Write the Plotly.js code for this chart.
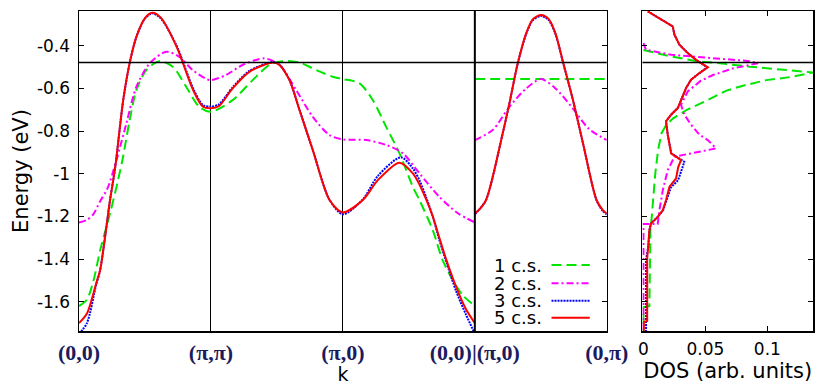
<!DOCTYPE html>
<html>
<head>
<meta charset="utf-8">
<script src="https://cdn.plot.ly/plotly-3.0.1.min.js"></script>
<style>
html,body{margin:0;padding:0;background:#fff;}
#chart{width:822px;height:385px;}
</style>
</head>
<body>
<div id="chart"></div>
<script>
// ---------- data ----------
const seriesNames = ['1 c.s.', '2 c.s.', '3 c.s.', '5 c.s.'];
const kTickVals = [0, 1, 2, 3, 4];
const kTickText = ['(0,0)', '(π,π)', '(π,0)', '(0,0)|(π,0)', '(0,π)'];
const energyTickVals = [-1.6, -1.4, -1.2, -1.0, -0.8, -0.6, -0.4];
const energyTickText = ['-1.6', '-1.4', '-1.2', '-1', '-0.8', '-0.6', '-0.4'];
const dosTickVals = [0, 0.05, 0.1];
const dosTickText = ['0', '0.05', '0.1'];
const fermiLevel = -0.478;
const pathBreak = 3;

// band for 1 c.s. (green)
const k1 = [0, 0.06, 0.11, 0.16, 0.235, 0.296, 0.334, 0.384, 0.435, 0.51, 0.61, 0.711, 0.812, 0.912, 1.0,
            1.164, 1.316, 1.443, 1.544, 1.671, 1.798, 1.924, 2.0,
            2.126, 2.227, 2.328, 2.429, 2.53, 2.58, 2.681, 2.756, 2.832, 2.908, 3.0,
            null, 3.0, 3.5, 4.0];
const e1 = [-1.62, -1.59, -1.50, -1.36, -1.186, -1.03, -0.92, -0.748, -0.608, -0.514, -0.472, -0.498, -0.592, -0.686, -0.709,
            -0.655, -0.561, -0.49, -0.472, -0.478, -0.514, -0.545, -0.556,
            -0.576, -0.655, -0.78, -0.904, -1.061, -1.123, -1.264, -1.405, -1.498, -1.569, -1.62,
            null, -0.556, -0.556, -0.556];

// band for 2 c.s. (magenta)
const k2 = [0, 0.058, 0.108, 0.158, 0.215, 0.284, 0.359, 0.435, 0.535, 0.661, 0.761, 0.861, 0.957, 1.0,
            1.114, 1.24, 1.405, 1.519, 1.646, 1.772, 1.899, 2.0,
            2.177, 2.328, 2.454, 2.58, 2.731, 2.874, 3.0,
            null, 3.0, 3.135, 3.262, 3.389, 3.503, 3.611, 3.738, 3.865, 4.0];
const e2 = [-1.228, -1.217, -1.19, -1.131, -1.07, -0.936, -0.764, -0.592, -0.483, -0.428, -0.452, -0.514, -0.553, -0.561,
            -0.537, -0.49, -0.459, -0.49, -0.608, -0.733, -0.819, -0.839,
            -0.842, -0.865, -0.904, -0.998, -1.108, -1.186, -1.228,
            null, -0.842, -0.795, -0.686, -0.6, -0.556, -0.6, -0.69, -0.79, -0.842];

// band for 3 c.s. (blue)
const k3 = [0, 0.06, 0.13, 0.16, 0.235, 0.275, 0.335, 0.385, 0.435, 0.50, 0.555, 0.62, 0.74, 0.865, 0.94, 1.0,
            1.06, 1.164, 1.291, 1.473, 1.519, 1.595, 1.671, 1.772, 1.899, 2.0,
            2.151, 2.265, 2.44, 2.53, 2.58, 2.631, 2.681, 2.731, 2.782, 2.858, 2.933, 3.0,
            null, 3.0, 3.03, 3.085, 3.211, 3.262, 3.325, 3.389, 3.44, 3.503, 3.56, 3.611, 3.668, 3.744, 3.82, 3.922, 3.97, 4.0];
const e3 = [-1.75, -1.70, -1.52, -1.452, -1.124, -0.967, -0.655, -0.478, -0.358, -0.272, -0.248, -0.272, -0.40, -0.60, -0.678, -0.685,
            -0.675, -0.595, -0.518, -0.476, -0.488, -0.56, -0.70, -0.889, -1.123, -1.19,
            -1.12, -1.01, -0.923, -0.975, -1.03, -1.11, -1.2, -1.31, -1.41, -1.55, -1.66, -1.75,
            null, -1.19, -1.17, -1.123, -0.811, -0.67, -0.483, -0.345, -0.28, -0.26, -0.28, -0.345, -0.478, -0.655, -0.858, -1.123, -1.175, -1.19];

// band for 5 c.s. (red)
const k5 = [0, 0.06, 0.13, 0.16, 0.235, 0.275, 0.335, 0.385, 0.435, 0.50, 0.555, 0.62, 0.74, 0.865, 0.94, 1.0,
            1.06, 1.164, 1.291, 1.473, 1.519, 1.595, 1.671, 1.772, 1.899, 2.0,
            2.151, 2.265, 2.429, 2.53, 2.58, 2.631, 2.681, 2.731, 2.782, 2.858, 2.933, 3.0,
            null, 3.0, 3.03, 3.085, 3.211, 3.262, 3.325, 3.389, 3.44, 3.503, 3.56, 3.611, 3.668, 3.744, 3.82, 3.922, 3.97, 4.0];
const e5 = [-1.70, -1.655, -1.514, -1.452, -1.124, -0.967, -0.655, -0.478, -0.358, -0.27, -0.245, -0.268, -0.405, -0.608, -0.686, -0.693,
            -0.683, -0.60, -0.522, -0.478, -0.49, -0.561, -0.701, -0.889, -1.123, -1.181,
            -1.123, -1.03, -0.948, -0.998, -1.05, -1.12, -1.2, -1.3, -1.40, -1.53, -1.635, -1.70,
            null, -1.186, -1.17, -1.123, -0.811, -0.67, -0.483, -0.342, -0.275, -0.256, -0.275, -0.342, -0.475, -0.655, -0.858, -1.123, -1.17, -1.186];

// density of states
const dos1 = [0, 0.0223, 0.0438, 0.0615, 0.0857, 0.11, 0.134, 0.1368, 0.1206, 0.0992, 0.0803, 0.067, 0.05, 0.035, 0.024, 0.0185, 0.0145, 0.0118, 0.0095, 0.0083, 0.0067, 0.0056, 0.0052, 0.0052, 0.0048, 0, 0];
const dosE1 = [-0.42, -0.45, -0.473, -0.482, -0.498, -0.511, -0.522, -0.525, -0.545, -0.561, -0.587, -0.61, -0.66, -0.70, -0.74, -0.77, -0.811, -0.889, -1.0, -1.108, -1.202, -1.264, -1.389, -1.58, -1.62, -1.625, -1.74];

const dos2 = [0, 0.002, 0.0223, 0.0492, 0.0723, 0.0857, 0.0924, 0.0723, 0.0561, 0.046, 0.0357, 0.0303, 0.033, 0.0384, 0.0452, 0.0519, 0.0586, 0.0357, 0.025, 0.0196, 0.0156, 0.0129, 0.0115, 0.0115, 0, 0];
const dosE2 = [-0.387, -0.419, -0.442, -0.455, -0.464, -0.472, -0.482, -0.506, -0.537, -0.565, -0.614, -0.677, -0.723, -0.77, -0.817, -0.842, -0.881, -0.908, -0.92, -0.983, -1.077, -1.17, -1.217, -1.236, -1.236, -1.74];

const dos3 = [0.0035, 0.0196, 0.0236, 0.025, 0.029, 0.0357, 0.0424, 0.0465, 0.0515, 0.0452, 0.0384, 0.0344, 0.0303, 0.0277, 0.0223, 0.0182, 0.0196, 0.021, 0.0225, 0.033, 0.031, 0.028, 0.022, 0.0185, 0.016, 0.0115, 0.0061, 0.0048, 0.004, 0.0021, 0.0021];
const dosE3 = [-0.239, -0.294, -0.309, -0.348, -0.395, -0.434, -0.466, -0.481, -0.501, -0.528, -0.559, -0.598, -0.661, -0.692, -0.723, -0.754, -0.817, -0.858, -0.904, -0.944, -0.98, -1.03, -1.065, -1.123, -1.17, -1.202, -1.233, -1.264, -1.342, -1.40, -1.74];

const dos5 = [0.0035, 0.0196, 0.0236, 0.025, 0.029, 0.0357, 0.0424, 0.0465, 0.0519, 0.0452, 0.0384, 0.0344, 0.0303, 0.0277, 0.0223, 0.0182, 0.0196, 0.021, 0.0223, 0.0303, 0.028, 0.0263, 0.021, 0.0182, 0.0156, 0.0115, 0.0061, 0.0048, 0.004, 0.003, 0.003, 0.0003, 0.0003];
const dosE5 = [-0.239, -0.294, -0.309, -0.348, -0.395, -0.434, -0.466, -0.481, -0.501, -0.528, -0.559, -0.598, -0.661, -0.692, -0.723, -0.754, -0.817, -0.858, -0.904, -0.936, -0.97, -1.022, -1.061, -1.123, -1.17, -1.202, -1.233, -1.264, -1.342, -1.40, -1.69, -1.695, -1.74];

// ---------- styles ----------
const colors = ['#00e600', '#ff00ff', '#0000ff', '#ff0000'];
const dashes = ['10px,5px', '7px,3px,2px,3px', '2px,1px', 'solid'];
const widths = [2, 2, 2, 2];
const eRange = [-1.737, -0.237];

const bandK = [k1, k2, k3, k5];
const bandE = [e1, e2, e3, e5];
const dosX = [dos1, dos2, dos3, dos5];
const dosY = [dosE1, dosE2, dosE3, dosE5];

const traces = [];
for (let i = 0; i < 4; i++) {
  traces.push({
    x: bandK[i], y: bandE[i], xaxis: 'x', yaxis: 'y', type: 'scatter', mode: 'lines',
    name: seriesNames[i], connectgaps: false, showlegend: false,
    line: {color: colors[i], width: widths[i], dash: dashes[i], shape: 'spline', smoothing: 0.8},
    cliponaxis: true
  });
}
for (let i = 0; i < 4; i++) {
  traces.push({
    x: dosX[i], y: dosY[i], xaxis: 'x2', yaxis: 'y2', type: 'scatter', mode: 'lines',
    name: seriesNames[i], showlegend: false,
    line: {color: colors[i], width: widths[i], dash: dashes[i]}
  });
}

// ---------- layout ----------
const W = 822, H = 385;
const mL = 79, mR = 8.7, mT = 11, mB = 54;
const plotW = W - mL - mR, plotH = H - mT - mB;
const px2paperX = p => (p - mL) / plotW;
const px2paperY = p => (H - mB - p) / plotH;

const sans = 'DejaVu Sans, Arial, sans-serif';
const tickFont = {family: sans, size: 17, color: '#000'};
const titleFont = {family: sans, size: 21, color: '#000'};

const shapes = [
  {type: 'line', xref: 'x domain', x0: 0, x1: 1, yref: 'y', y0: fermiLevel, y1: fermiLevel, line: {color: '#000', width: 1.5}},
  {type: 'line', xref: 'x2 domain', x0: 0, x1: 1, yref: 'y2', y0: fermiLevel, y1: fermiLevel, line: {color: '#000', width: 1.5}},
  {type: 'line', xref: 'x', x0: pathBreak, x1: pathBreak, yref: 'y domain', y0: 0, y1: 1, line: {color: '#000', width: 2}}
];
const annotations = [];
const legendRows = [265, 283.3, 300.7, 317.7];
for (let i = 0; i < 4; i++) {
  const yp = px2paperY(legendRows[i]);
  annotations.push({
    xref: 'paper', yref: 'paper', x: px2paperX(543), y: yp, xanchor: 'right', yanchor: 'middle',
    text: seriesNames[i], showarrow: false, borderpad: 0,
    font: {family: sans, size: 18, color: '#000'}
  });
  shapes.push({type: 'line', xref: 'paper', yref: 'paper', x0: px2paperX(551.7), x1: px2paperX(590), y0: yp, y1: yp,
    line: {color: colors[i], width: widths[i], dash: dashes[i]}});
}

const layout = {
  width: W, height: H,
  margin: {l: mL, r: mR, t: mT, b: mB, pad: 0},
  paper_bgcolor: '#fff', plot_bgcolor: '#fff',
  showlegend: false,
  xaxis: {
    domain: [0, px2paperX(607)], range: [0, 4], anchor: 'y',
    tickvals: kTickVals, ticktext: kTickText, ticks: '',
    tickfont: {family: 'Liberation Serif, Times New Roman, serif', size: 22, color: '#1b1b5e', weight: 'bold'},
    ticklabelstandoff: 1,
    showgrid: true, gridcolor: '#000', gridwidth: 1, zeroline: false,
    showline: true, mirror: true, linecolor: '#000', linewidth: 1.5,
    title: {text: 'k', font: {family: sans, size: 19, color: '#000'}, standoff: 0}, automargin: false
  },
  yaxis: {
    domain: [0, 1], range: eRange, anchor: 'x',
    tickvals: energyTickVals, ticktext: energyTickText,
    ticks: 'inside', ticklen: 5, tickwidth: 1.2, tickcolor: '#000',
    tickfont: tickFont, ticklabelstandoff: 4,
    showgrid: false, zeroline: false,
    showline: true, mirror: 'ticks', linecolor: '#000', linewidth: 1.5,
    title: {text: 'Energy (eV)', font: titleFont, standoff: 2}, automargin: false
  },
  xaxis2: {
    domain: [px2paperX(642.7), 1], range: [-0.0008, 0.1368], anchor: 'y2',
    tickvals: dosTickVals, ticktext: dosTickText,
    ticks: 'inside', ticklen: 5, tickwidth: 1.2, tickcolor: '#000',
    tickfont: tickFont, ticklabelstandoff: 2,
    showgrid: false, zeroline: false,
    showline: true, mirror: 'ticks', linecolor: '#000', linewidth: 1.5,
    title: {text: 'DOS (arb. units)', font: titleFont, standoff: 0}, automargin: false
  },
  yaxis2: {
    domain: [0, 1], range: eRange, anchor: 'x2',
    tickvals: energyTickVals, showticklabels: false,
    ticks: 'inside', ticklen: 5, tickwidth: 1.2, tickcolor: '#000',
    showgrid: false, zeroline: false,
    showline: true, mirror: 'ticks', linecolor: '#000', linewidth: 1.5
  },
  shapes: shapes,
  annotations: annotations
};

Plotly.newPlot('chart', traces, layout, {staticPlot: true, displayModeBar: false});
</script>
</body>
</html>
